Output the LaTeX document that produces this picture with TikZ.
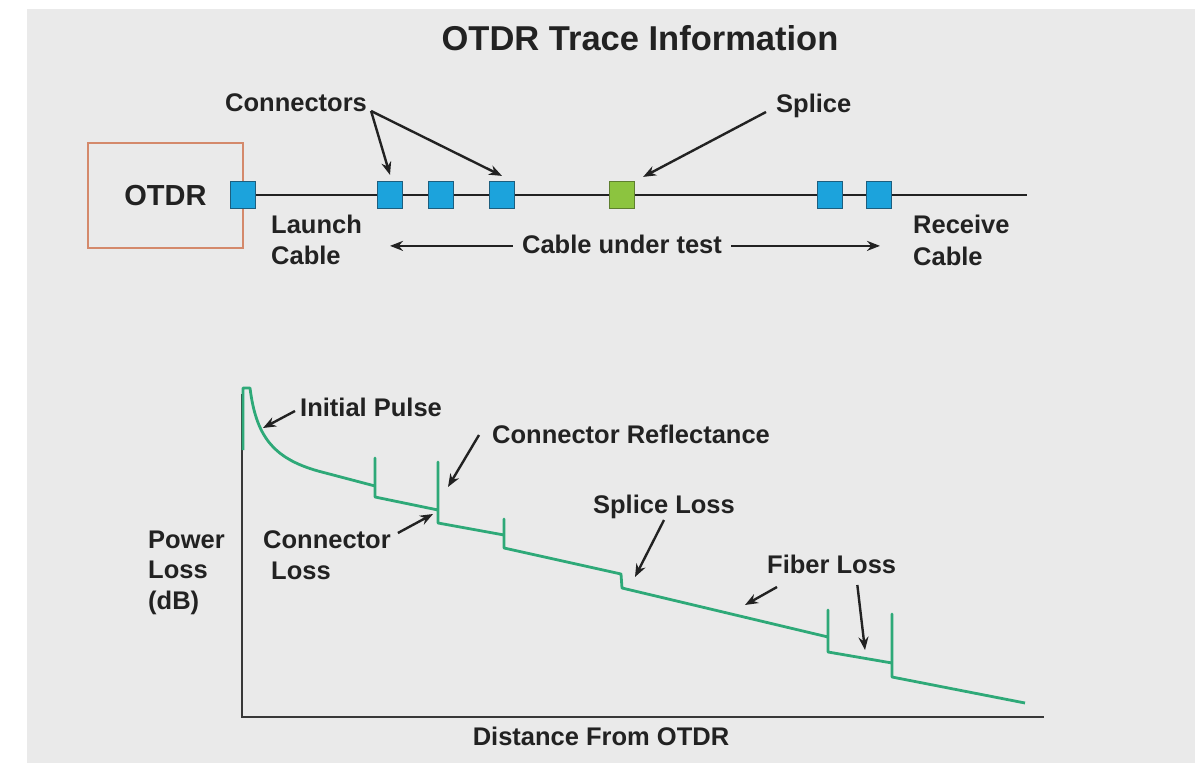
\documentclass[tikz,border=0pt]{standalone}
\usepackage{fontspec}
\setmainfont{Liberation Sans}
\usetikzlibrary{arrows.meta}
\definecolor{bg}{HTML}{EAEAEA}
\definecolor{cblue}{HTML}{1CA3DC}
\definecolor{cblueb}{HTML}{1D5E7E}
\definecolor{cgreen}{HTML}{8CC43F}
\definecolor{cgreenb}{HTML}{5E7F2F}
\definecolor{boxc}{HTML}{D4896B}
\definecolor{tracec}{HTML}{2EA978}
\definecolor{ink}{HTML}{222222}
\begin{document}
\begin{tikzpicture}[x=1pt,y=-1pt,
  lbl/.style={font=\fontsize{25.5}{30}\selectfont\bfseries, text=ink, inner sep=0pt, anchor=base west},
  conbox/.style={draw=cblueb, fill=cblue, line width=1.2pt, minimum width=25pt, minimum height=27pt, inner sep=0pt},
  splbox/.style={conbox, draw=cgreenb, fill=cgreen},
  fiber/.style={draw=ink, line width=2.6pt},
  arr/.style={draw=ink, line width=2.4pt, -{Stealth[length=13pt,width=10pt]}},
  ax/.style={draw=ink!90, line width=2.6pt, line cap=rect},
  tr/.style={draw=tracec, line width=2.8pt, line join=round}]
\fill[white] (0,0) rectangle (1195,763);
\fill[bg] (27,9) rectangle (1195,763);
\useasboundingbox (0,0) rectangle (1195,763);

% title
\node[lbl, anchor=base, font=\fontsize{34.5}{40}\selectfont\bfseries] (title) at (640,50) {OTDR Trace Information};

% top schematic
\node[draw=boxc, line width=2pt, minimum width=155pt, minimum height=105pt, inner sep=0pt,
      font=\fontsize{29}{34}\selectfont\bfseries, text=ink] (otdr) at (165.5,195.5) {OTDR};
\node[conbox] (c0) at (243,195) {};
\node[conbox] (c1) at (390,195) {};
\node[conbox] (c2) at (441,195) {};
\node[conbox] (c3) at (502,195) {};
\node[splbox] (sp) at (622,195) {};
\node[conbox] (c4) at (830,195) {};
\node[conbox] (c5) at (879,195) {};
\coordinate (fend) at (1027,195);
\draw[fiber] (c0) -- (c1) -- (c2) -- (c3) -- (sp) -- (c4) -- (c5) -- (fend);

\node[lbl] (conn) at (225,111) {Connectors};
\draw[arr] ([xshift=4pt]conn.base east) -- ([yshift=6pt]c1.north);
\draw[arr] ([xshift=4pt]conn.base east) -- ([yshift=5pt]c3.north);

\node[lbl] (spl) at (776,112) {Splice};
\draw[arr] ([xshift=-10pt]spl.base west) -- ([shift={(8pt,4pt)}]sp.north east);

\node[lbl] (launch1) at (271,233) {Launch};
\node[lbl] (launch2) at (271,264) {Cable};

\node[lbl, anchor=base] (cut) at (622,253) {Cable under test};
\coordinate (cutL) at (390,246);
\coordinate (cutR) at (880,246);
\draw[arr] ([shift={(-9pt,-2pt)}]cut.west) -- ([yshift=-2pt]cut.west -| cutL);
\draw[arr] ([shift={(9pt,-2pt)}]cut.east) -- ([yshift=-2pt]cut.east -| cutR);

\node[lbl] (recv1) at (913,233) {Receive};
\node[lbl] (recv2) at (913,265) {Cable};

% bottom graph
\coordinate (ytop) at (242,395);
\coordinate (orig) at (242,717);
\coordinate (xend) at (1043,717);
\draw[ax] (ytop) -- (orig) -- (xend);

\draw[tr] (243,450) -- (243,388) -- (250,388)
  .. controls (256,435) and (272,458) .. (318,471)
  -- (375,486) -- (375,458) -- (375,497)
  -- (438,510) -- (438,462) -- (438,523)
  -- (504,535) -- (504,519) -- (504,548)
  -- (621,574) -- (622,588)
  -- (828,637) -- (828,610) -- (828,652)
  -- (892,663) -- (892,614) -- (892,677)
  -- (1025,703);

\node[lbl] (ip) at (300,416) {Initial Pulse};
\coordinate (ipT) at (263,428);
\draw[arr] ([shift={(-5pt,5pt)}]ip.base west) -- (ipT);

\node[lbl] (cr) at (492,443) {Connector Reflectance};
\coordinate (crT) at (448,487);
\draw[arr] ([shift={(-13pt,8pt)}]cr.base west) -- (crT);

\node[lbl] (cl1) at (263,548) {Connector};
\node[lbl] (cl2) at (271,579) {Loss};
\coordinate (clT) at (433,514);
\draw[arr] ([shift={(7pt,15pt)}]cl1.base east) -- (clT);

\node[lbl, anchor=base] (sl) at (664,513) {Splice Loss};
\coordinate (slT) at (635,577);
\draw[arr] ([yshift=-7pt]sl.base) -- (slT);

\node[lbl] (fl) at (767,573) {Fiber Loss};
\coordinate (flT1) at (745,605);
\coordinate (flT2) at (865,650);
\draw[arr] ([shift={(10pt,-14pt)}]fl.base west) -- (flT1);
\draw[arr] ([shift={(-39pt,-12pt)}]fl.base east) -- (flT2);

\node[lbl] (pl1) at (148,548) {Power};
\node[lbl] (pl2) at (148,578) {Loss};
\node[lbl] (pl3) at (148,609) {(dB)};

\node[lbl, anchor=base] (dist) at (601,745) {Distance From OTDR};
\end{tikzpicture}
\end{document}
